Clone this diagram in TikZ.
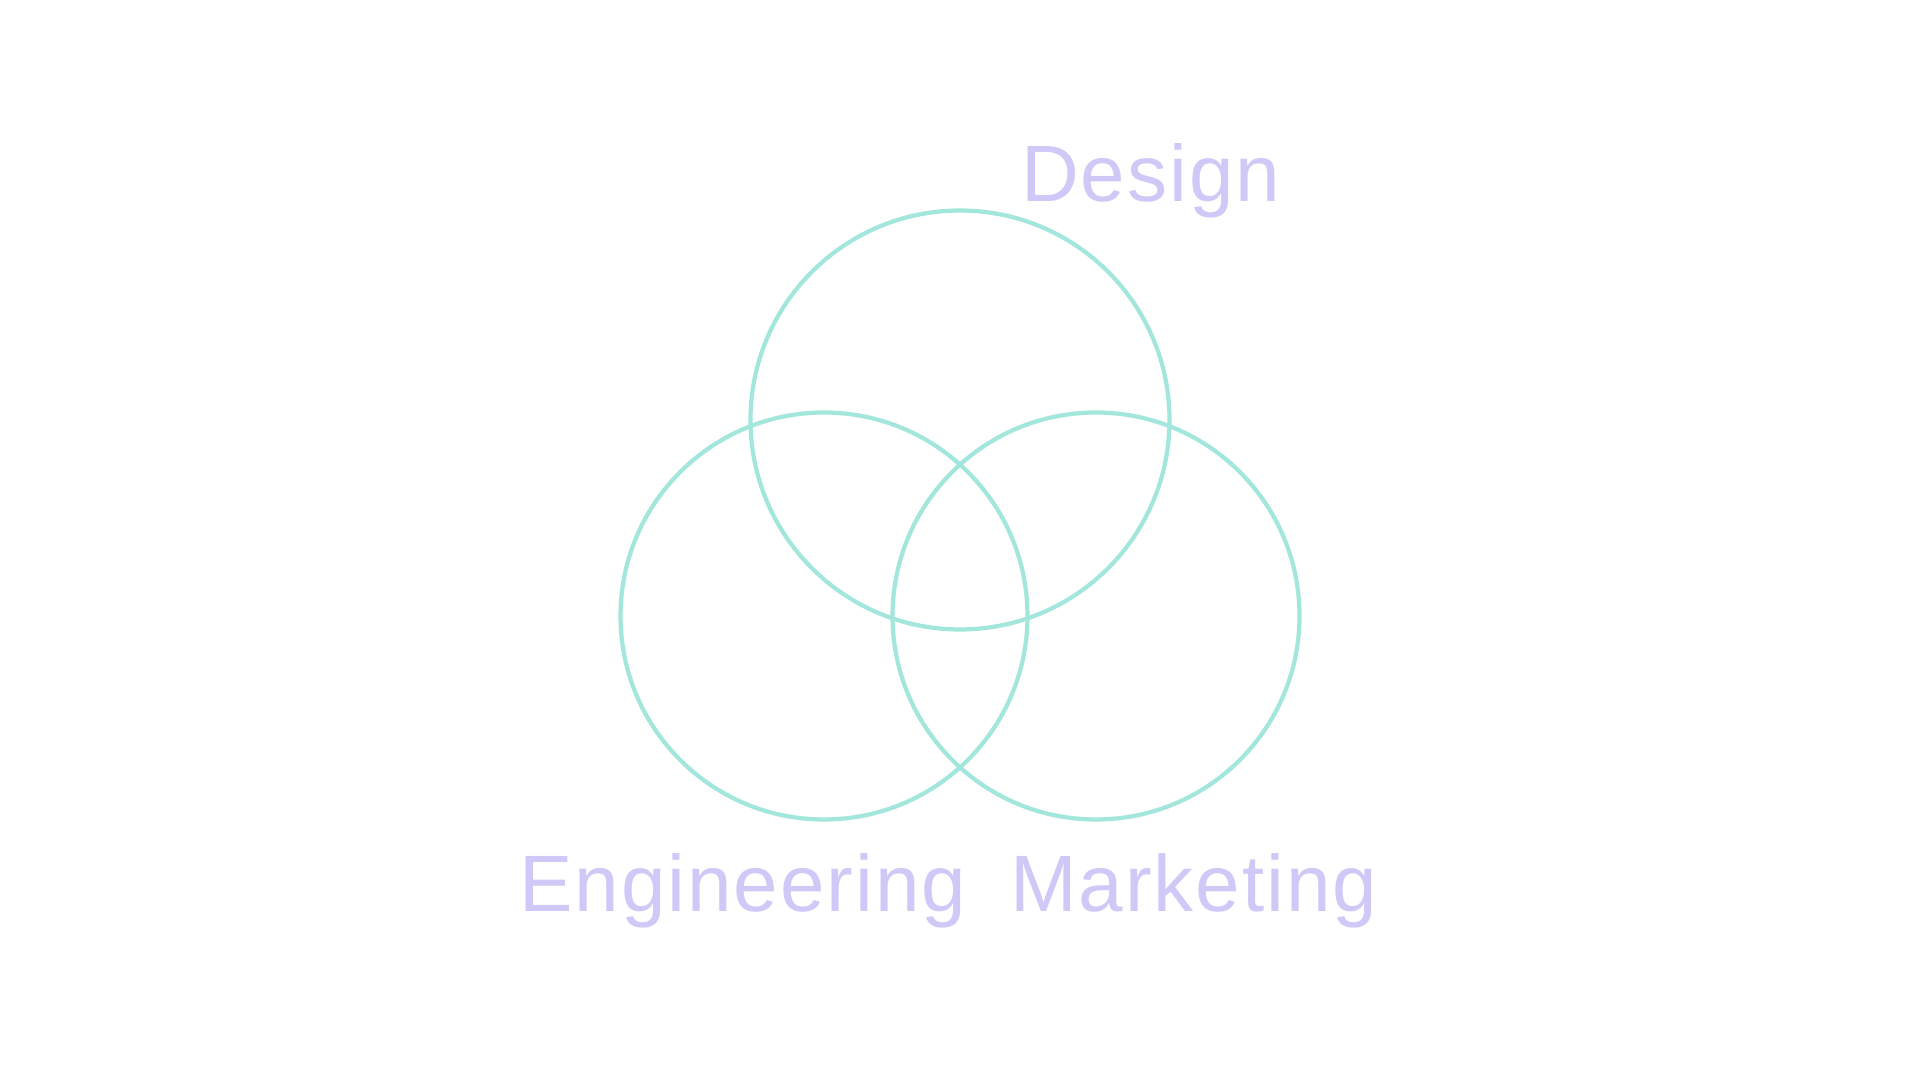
\documentclass[tikz,border=0pt]{standalone}
\usepackage{fontspec}
\setmainfont{Liberation Sans}[LetterSpace=2.5]
\definecolor{ring}{HTML}{A2E6DC}
\definecolor{lbl}{HTML}{D0C9F8}
\begin{document}
\begin{tikzpicture}[x=1pt,y=1pt,
  ringstyle/.style={draw=ring, line width=4.2pt},
  lblstyle/.style={text=lbl, inner sep=0pt, anchor=base west, font=\fontsize{80}{96}\selectfont}]
\useasboundingbox[fill=white] (0,0) rectangle (1920,1080);
\draw[ringstyle] (960,660) circle (209.5);
\draw[ringstyle] (824,464) circle (203.5);
\draw[ringstyle] (1096,464) circle (203.5);
\node[lblstyle] (design) at (1021,878) {Design};
\node[lblstyle] (eng) at (519,169) {Engineering};
\node[lblstyle] (mkt) at (1010,169) {Marketing};
\end{tikzpicture}
\end{document}
